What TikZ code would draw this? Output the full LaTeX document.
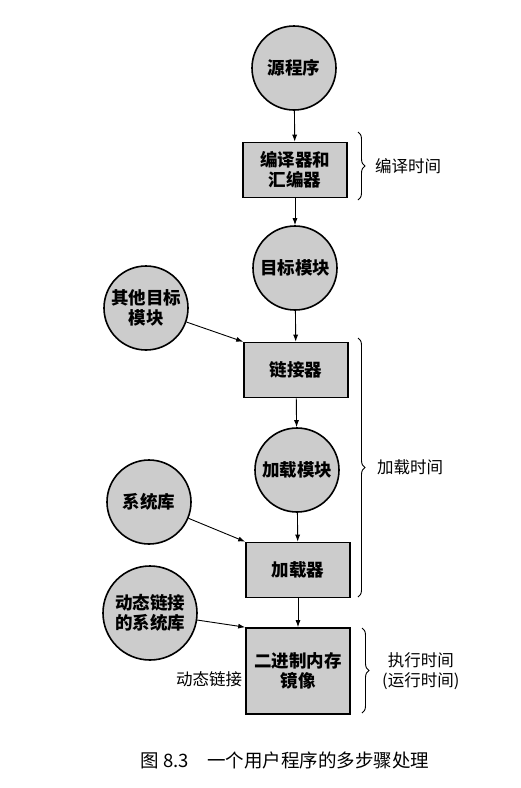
\documentclass[tikz,border=0pt]{standalone}
\usepackage{fontspec}
\newfontfamily\cjk{Noto Sans CJK SC}
\usetikzlibrary{arrows.meta,decorations.pathreplacing}
\tikzset{
  blob/.style={circle,draw=black,line width=1.6pt,fill=black!20,minimum size=84pt,inner sep=0pt,align=center,font=\cjk\bfseries\fontsize{17.5}{20}\selectfont},
  stage/.style={rectangle,draw=black,line width=1.6pt,fill=black!20,minimum width=104pt,minimum height=55pt,inner sep=0pt,align=center,font=\cjk\bfseries\fontsize{17.5}{20}\selectfont},
  arr/.style={line width=0.9pt,-{Latex[length=7pt,width=5pt]}},
  curly/.style={decorate,decoration={brace,amplitude=7pt},line width=0.9pt},
  lbl/.style={font=\cjk\fontsize{16.5}{20}\selectfont,align=center,inner sep=0pt}
}
\begin{document}
\begin{tikzpicture}[x=1pt,y=-1pt]
\useasboundingbox (0,0) rectangle (521,788);
\node[blob] (src) at (294,68) {源程序};
\node[stage] (comp) at (295,170) {编译器和\\汇编器};
\node[blob] (obj) at (295,268) {目标模块};
\node[blob] (other) at (146,308) {其他目标\\模块};
\node[stage] (link) at (296,370) {链接器};
\node[blob] (load) at (297,470) {加载模块};
\node[blob] (syslib) at (149,502) {系统库};
\node[stage] (loader) at (298,570) {加载器};
\node[blob,minimum size=94pt] (dyn) at (150,613) {动态链接\\的系统库};
\node[stage,minimum height=86pt] (img) at (298,671) {二进制内存\\镜像};

\draw[arr] (src) -- (comp);
\draw[arr] (comp) -- (obj);
\draw[arr] (obj) -- (link);
\draw[arr] (other) -- (link.north west);
\draw[arr] (link) -- (load);
\draw[arr] (load) -- (loader);
\draw[arr] (syslib) -- (loader.north west);
\draw[arr] (loader) -- (img);
\draw[arr] (dyn) -- (img.north west);

\node[lbl,anchor=east] (dl) at ([xshift=-3pt,yshift=-8pt]img.west) {动态链接};

\coordinate (b1t) at (358,132);
\coordinate (b1b) at (358,200);
\draw[curly] (b1t) -- (b1b);
\node[lbl,anchor=west] (t1) at (375,166) {编译时间};

\coordinate (b2t) at (358,338);
\coordinate (b2b) at (358,597);
\draw[curly] (b2t) -- (b2b);
\node[lbl,anchor=west] (t2) at (377,467) {加载时间};

\coordinate (b3t) at (362,628);
\coordinate (b3b) at (362,713);
\draw[curly] (b3t) -- (b3b);
\node[lbl,anchor=west] (t3) at (382,671) {执行时间\\(运行时间)};

\node[lbl,font=\cjk\fontsize{18.5}{20}\selectfont] (cap) at (285,760) {图 8.3\hspace{18pt}一个用户程序的多步骤处理};
\end{tikzpicture}
\end{document}
